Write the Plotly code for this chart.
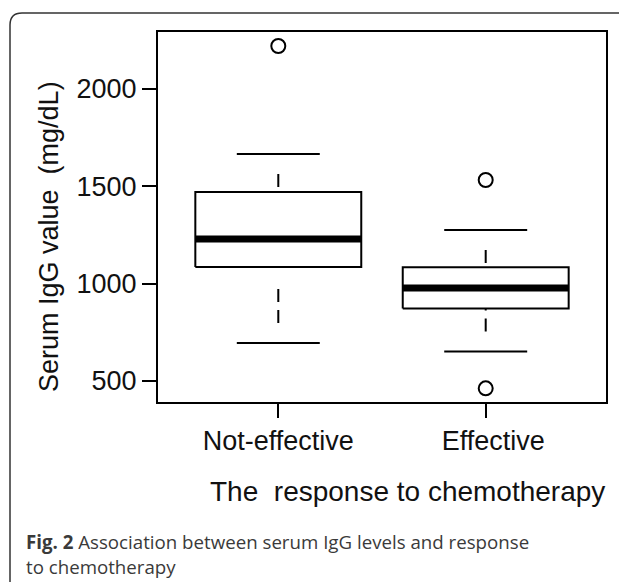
import plotly.graph_objects as go

# ---------------- data ----------------
categories = ["Not-effective", "Effective"]
positions = [1, 2]
q1_vals = [1085, 872]
median_vals = [1229, 977]
q3_vals = [1470, 1084]
lower_whisker = [695, 651]
upper_whisker = [1665, 1275]
outliers = [[2220], [1532, 462]]
y_ticks = [500, 1000, 1500, 2000]

# ---------------- styling / layout constants ----------------
OFF = 8                      # page body margin of the html page
W, H = 627 - OFF, 582 - OFF
ML, MR, MT, MB = 150, 21, 24, 180
PW, PH = W - ML - MR, H - MT - MB
BOX_HALF = 0.4
CAP_HALF = 0.2
AX_FONT = "Liberation Sans, Arial, sans-serif"
CAP_FONT = "Open Sans, Noto Sans, sans-serif"
WHISKER_DASH = "0px,20px,13px,8px,13px,20px"


def px_x(px):
    """reference-image pixel -> paper x"""
    return (px - OFF - ML) / PW


def px_y(py):
    """reference-image pixel -> paper y"""
    return (H - MB - (py - OFF)) / PH


fig = go.Figure()

for i, pos in enumerate(positions):
    q1, med, q3 = q1_vals[i], median_vals[i], q3_vals[i]
    lo, hi = lower_whisker[i], upper_whisker[i]
    # box
    fig.add_trace(go.Scatter(
        x=[pos - BOX_HALF, pos + BOX_HALF, pos + BOX_HALF, pos - BOX_HALF, pos - BOX_HALF],
        y=[q1, q1, q3, q3, q1],
        mode="lines", fill="toself", fillcolor="white",
        line=dict(color="black", width=2), hoverinfo="skip", showlegend=False))
    # median
    fig.add_trace(go.Scatter(
        x=[pos - BOX_HALF, pos + BOX_HALF], y=[med, med], mode="lines",
        line=dict(color="black", width=7), showlegend=False))
    # whiskers (drawn from staple toward box)
    fig.add_trace(go.Scatter(
        x=[pos, pos], y=[hi, q3], mode="lines",
        line=dict(color="black", width=2, dash=WHISKER_DASH), showlegend=False))
    fig.add_trace(go.Scatter(
        x=[pos, pos], y=[lo, q1], mode="lines",
        line=dict(color="black", width=2, dash=WHISKER_DASH), showlegend=False))
    # staples
    for v in (hi, lo):
        fig.add_trace(go.Scatter(
            x=[pos - CAP_HALF, pos + CAP_HALF], y=[v, v], mode="lines",
            line=dict(color="black", width=2), showlegend=False))
    # outliers
    fig.add_trace(go.Scatter(
        x=[pos] * len(outliers[i]), y=outliers[i], mode="markers",
        marker=dict(symbol="circle-open", size=14, color="black", line=dict(width=2)),
        showlegend=False))

axis_common = dict(
    showline=True, mirror=True, linecolor="black", linewidth=2,
    ticks="outside", ticklen=14, tickwidth=1.5, tickcolor="black",
    showgrid=False, zeroline=False,
    tickfont=dict(family=AX_FONT, size=27, color="#111111"),
)

x_ticktext = [categories[0], "\u00a0\u00a0" + categories[1]]
fig.update_xaxes(range=[0.42, 2.58], tickmode="array", tickvals=positions,
                 ticktext=x_ticktext, **axis_common)
fig.update_yaxes(range=[392, 2292], tickmode="array", tickvals=y_ticks,
                 ticktext=[str(t) for t in y_ticks], **axis_common)

# outer rounded frame of the figure panel
fx0, fy0, r = 10, 13, 12
frame_path = (
    f"M {px_x(fx0)},{px_y(660)} "
    f"L {px_x(fx0)},{px_y(fy0 + r)} "
    f"Q {px_x(fx0)},{px_y(fy0)} {px_x(fx0 + r)},{px_y(fy0)} "
    f"L {px_x(700)},{px_y(fy0)}"
)
fig.add_shape(type="path", path=frame_path, xref="paper", yref="paper",
              line=dict(color="#333333", width=1.5), layer="below")

annotations = [
    dict(text="Serum IgG value\u00a0 (mg/dL)", x=px_x(49), y=px_y(237),
         textangle=-90, font=dict(family=AX_FONT, size=27, color="#111111")),
    dict(text="The\u00a0 response to chemotherapy", x=px_x(407), y=px_y(491),
         font=dict(family=AX_FONT, size=28, color="#111111")),
    dict(text="<b>Fig. 2</b> Association between serum IgG levels and response",
         x=px_x(24), y=px_y(541), xanchor="left",
         font=dict(family=CAP_FONT, size=18.7, color="#3a3a3a")),
    dict(text="to chemotherapy", x=px_x(24), y=px_y(566), xanchor="left",
         font=dict(family=CAP_FONT, size=18.7, color="#3a3a3a")),
]
for a in annotations:
    a.setdefault("xanchor", "center")
    a.update(xref="paper", yref="paper", showarrow=False, yanchor="middle")
    fig.add_annotation(**a)

fig.update_layout(
    width=W, height=H,
    margin=dict(l=ML, r=MR, t=MT, b=MB, pad=0),
    paper_bgcolor="white", plot_bgcolor="white",
    showlegend=False,
)

fig.write_html("out.html")
